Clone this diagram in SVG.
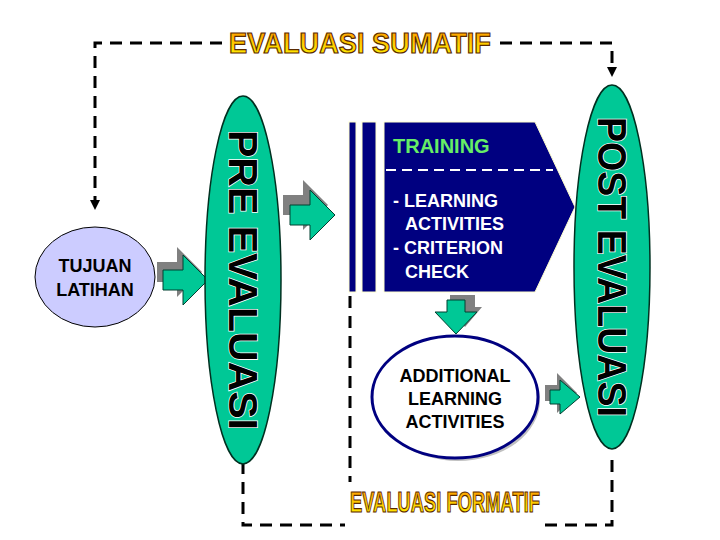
<svg xmlns="http://www.w3.org/2000/svg" width="720" height="540" viewBox="0 0 720 540">
<defs>
<linearGradient id="g" x1="0" y1="0" x2="0" y2="1"><stop offset="0" stop-color="#ff8a00"/><stop offset="0.6" stop-color="#ffd400"/><stop offset="1" stop-color="#fff200"/></linearGradient>
<marker id="ah" markerWidth="10" markerHeight="10" refX="5" refY="5" orient="auto" markerUnits="userSpaceOnUse"><path d="M0,0 L10,5 L0,10 z" fill="#000"/></marker>
<g id="arr"><path d="M0,-10 H20 V-25 L45,0 L20,25 V10 H0 z"/></g>
</defs>
<style>
.dash{fill:none;stroke:#000;stroke-width:3;stroke-dasharray:12 8}
.ttl{font-family:"Liberation Sans Narrow","Liberation Sans",sans-serif;font-weight:bold;font-size:30px;fill:url(#g);stroke:#5a2a00;stroke-width:1.2}
.big{font-family:"Liberation Sans",Arial,sans-serif;font-weight:bold;font-size:40px;fill:#000;stroke:#fff;stroke-width:1.5;paint-order:stroke}
.w{font-family:"Liberation Sans",Arial,sans-serif;font-weight:bold;font-size:18px;fill:#fff}
.k{font-family:"Liberation Sans",Arial,sans-serif;font-weight:bold;font-size:18px;fill:#000}
.shadow{fill:#808080}
.grn{fill:#00c896;stroke:#005040;stroke-width:1}
</style>
<rect width="720" height="540" fill="#fff"/>
<g id="connectors">
<path class="dash" d="M222,43 H95 V205" marker-end="url(#ah)"/>
<path class="dash" d="M500,43 H612 V72" marker-end="url(#ah)"/>
<path class="dash" d="M243,462 V525 H345"/>
<path class="dash" d="M545,525 H612 V452"/>
<path class="dash" d="M350,296 V482"/>
</g>
<g id="title-sumatif"><text class="ttl" x="360" y="53" text-anchor="middle" textLength="262" lengthAdjust="spacingAndGlyphs">EVALUASI SUMATIF</text></g>
<g id="title-formatif"><text class="ttl" x="445" y="512" text-anchor="middle" textLength="190" lengthAdjust="spacingAndGlyphs" font-size="32">EVALUASI FORMATIF</text></g>
<g id="tujuan">
<ellipse cx="95" cy="277" rx="60" ry="50" fill="#ccccff" stroke="#000" stroke-width="1"/>
<text class="k" x="95" y="272" text-anchor="middle" font-weight="normal">TUJUAN</text>
<text class="k" x="95" y="296" text-anchor="middle" font-weight="normal">LATIHAN</text>
</g>
<g id="arrow1"><use href="#arr" x="157" y="272" class="shadow" fill="#808080"/><use href="#arr" x="163" y="280" fill="#00c896" stroke="#004030"/></g>
<g id="pre">
<ellipse cx="243" cy="280" rx="38" ry="184" fill="#00c896" stroke="#003020" stroke-width="1.5"/>
<text class="big" transform="translate(229,280) rotate(90)" text-anchor="middle" textLength="300" lengthAdjust="spacingAndGlyphs">PRE EVALUASI</text>
</g>
<g id="arrow2"><use href="#arr" x="283" y="205" fill="#808080"/><use href="#arr" x="290" y="215" fill="#00c896" stroke="#004030"/></g>
<g id="training">
<rect x="349" y="122" width="7" height="170" fill="#000080" stroke="#ffffcc"/>
<rect x="362" y="122" width="14" height="170" fill="#000080" stroke="#ffffcc"/>
<path d="M384,122 H535 L575,207 L535,292 H384 z" fill="#000080" stroke="#ffffcc"/>
<line x1="386" y1="170" x2="553" y2="170" stroke="#fff" stroke-width="2" stroke-dasharray="10 6"/>
<text x="393" y="153" font-family="Liberation Sans,Arial,sans-serif" font-weight="bold" font-size="20" fill="#66ee66">TRAINING</text>
<text class="w" x="393" y="207">- LEARNING</text>
<text class="w" x="405" y="230">ACTIVITIES</text>
<text class="w" x="393" y="254">- CRITERION</text>
<text class="w" x="405" y="278">CHECK</text>
</g>
<g id="arrow3">
<path d="M450,295 h25 v12 h7 l-17,20 l-17,-20 h2 z" fill="#808080"/>
<path d="M447,300 h18 v12 h12 l-21,22 l-21,-22 h12 z" fill="#00c896" stroke="#004030"/>
</g>
<g id="additional">
<ellipse cx="458" cy="400" rx="82" ry="61" fill="#c0c0c0"/>
<ellipse cx="455" cy="397" rx="83" ry="61" fill="#fff" stroke="#000080" stroke-width="3"/>
<text class="k" x="455" y="382" text-anchor="middle">ADDITIONAL</text>
<text class="k" x="455" y="405" text-anchor="middle">LEARNING</text>
<text class="k" x="455" y="428" text-anchor="middle">ACTIVITIES</text>
</g>
<g id="arrow4">
<path d="M545,385 h12 v-12 l20,20 l-20,20 v-12 h-12 z" fill="#808080"/>
<path d="M550,390 h10 v-10 l20,17 l-20,17 v-10 h-10 z" fill="#00c896" stroke="#004030"/>
</g>
<g id="post">
<ellipse cx="612" cy="267" rx="38" ry="182" fill="#00c896" stroke="#003020" stroke-width="1.5"/>
<text class="big" transform="translate(598,267) rotate(90)" text-anchor="middle" textLength="300" lengthAdjust="spacingAndGlyphs">POST EVALUASI</text>
</g>
</svg>
